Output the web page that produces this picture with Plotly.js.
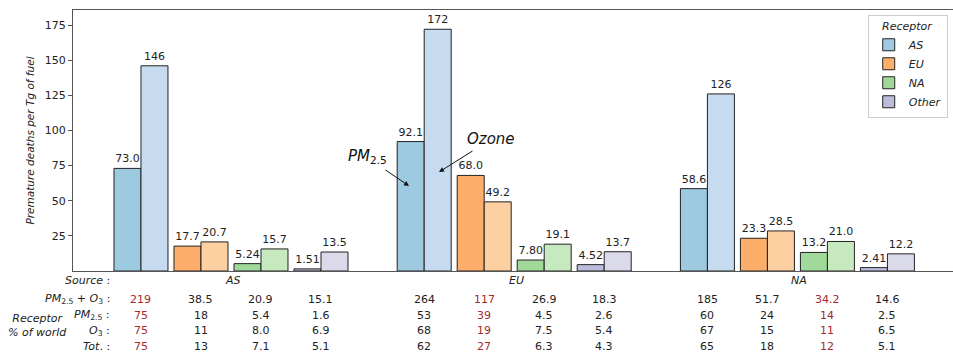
<!DOCTYPE html>
<html>
<head>
<meta charset="utf-8">
<script src="https://cdn.plot.ly/plotly-3.0.1.min.js"></script>
<style>html,body{margin:0;padding:0;background:#fff;}</style>
</head>
<body>
<div id="chart" style="width:953px;height:358px;"></div>
<script>
// ---------- DATA ----------
const sources = ['AS', 'EU', 'NA'];
const receptors = ['AS', 'EU', 'NA', 'Other'];

// Premature deaths per Tg of fuel, by source (outer) and receptor (inner)
const pm25_fromAS = [73.0, 17.7, 5.24, 1.51];
const ozone_fromAS = [146, 20.7, 15.7, 13.5];
const pm25_fromEU = [92.1, 68.0, 7.80, 4.52];
const ozone_fromEU = [172, 49.2, 19.1, 13.7];
const pm25_fromNA = [58.6, 23.3, 13.2, 2.41];
const ozone_fromNA = [126, 28.5, 21.0, 12.2];

// Table rows (AS source x4, EU source x4, NA source x4)
const rowTotal = ['219', '38.5', '20.9', '15.1', '264', '117', '26.9', '18.3', '185', '51.7', '34.2', '14.6'];
const rowPctPM = ['75', '18', '5.4', '1.6', '53', '39', '4.5', '2.6', '60', '24', '14', '2.5'];
const rowPctO3 = ['75', '11', '8.0', '6.9', '68', '19', '7.5', '5.4', '67', '15', '11', '6.5'];
const rowPctTot = ['75', '13', '7.1', '5.1', '62', '27', '6.3', '4.3', '65', '18', '12', '5.1'];

const rowLabels = ['<i>PM</i><sub>2.5</sub> + <i>O</i><sub>3</sub> :', '<i>PM</i><sub>2.5</sub> :', '<i>O</i><sub>3</sub> :', '<i>Tot</i>. :'];

// ---------- STYLE ----------
const pmColors = ['#9ecae1', '#fdae6b', '#a1d99b', '#bcbddc'];
const o3Colors = ['#c6dbef', '#fdd0a2', '#c7e9c0', '#dadaeb'];
const red = '#a52a2a';
const groupGap = 4.72;
const barW = 0.45;

const pmBySource = [pm25_fromAS, pm25_fromEU, pm25_fromNA];
const o3BySource = [ozone_fromAS, ozone_fromEU, ozone_fromNA];

function pairCenter(g, r) { return g * groupGap + (r - 1.5); }

const traces = [];
receptors.forEach((rec, r) => {
  traces.push({
    type: 'bar', name: rec, legendgroup: rec, showlegend: true,
    x: sources.map((s, g) => pairCenter(g, r) - barW / 2),
    y: sources.map((s, g) => pmBySource[g][r]),
    width: barW,
    marker: {color: pmColors[r], line: {color: '#222', width: 1}},
    text: sources.map((s, g) => pmBySource[g][r].toPrecision(3)),
    textposition: 'outside', constraintext: 'none', cliponaxis: false,
    textfont: {family: 'DejaVu Sans', size: 11, color: '#222'},
    hoverinfo: 'skip'
  });
});
receptors.forEach((rec, r) => {
  traces.push({
    type: 'bar', name: rec + ' ozone', legendgroup: rec, showlegend: false,
    x: sources.map((s, g) => pairCenter(g, r) + barW / 2),
    y: sources.map((s, g) => o3BySource[g][r]),
    width: barW,
    marker: {color: o3Colors[r], line: {color: '#222', width: 1}},
    text: sources.map((s, g) => o3BySource[g][r].toPrecision(3)),
    textposition: 'outside', constraintext: 'none', cliponaxis: false,
    textfont: {family: 'DejaVu Sans', size: 11, color: '#222'},
    hoverinfo: 'skip'
  });
});

// ---------- TABLE / ANNOTATIONS ----------
const annotations = [];
const rowY = [-0.108, -0.169, -0.229, -0.290];
const srcY = -0.038;
const labelX = (112 - 73) / 880;

annotations.push({xref: 'paper', yref: 'paper', x: labelX, y: srcY, xanchor: 'right', yanchor: 'middle',
  text: '<i>Source</i> :', showarrow: false, font: {size: 11, color: '#222'}});
sources.forEach((s, g) => {
  annotations.push({xref: 'x', yref: 'paper', x: g * groupGap + 0.03, y: srcY, xanchor: 'center', yanchor: 'middle',
    text: '<i>' + s + '</i>', showarrow: false, font: {size: 11, color: '#222'}});
});
const rows = [rowTotal, rowPctPM, rowPctO3, rowPctTot];
rows.forEach((row, k) => {
  annotations.push({xref: 'paper', yref: 'paper', x: labelX, y: rowY[k], xanchor: 'right', yanchor: 'middle',
    text: rowLabels[k], showarrow: false, font: {size: 11, color: '#222'}});
  row.forEach((val, i) => {
    const g = Math.floor(i / 4), r = i % 4;
    annotations.push({xref: 'x', yref: 'paper', x: pairCenter(g, r), y: rowY[k], xanchor: 'center', yanchor: 'middle',
      text: val, showarrow: false, font: {size: 11, color: (g === r) ? red : '#222'}});
  });
});
annotations.push({xref: 'paper', yref: 'paper', x: (37 - 73) / 880, y: -0.208, xanchor: 'center', yanchor: 'middle',
  text: '<i>Receptor</i><br><i>% of world</i>', showarrow: false, font: {size: 11, color: '#222'}});

// Arrow annotations (PM2.5 and Ozone)
annotations.push({xref: 'x', yref: 'y', x: 2.967, y: 60.5, ax: -25, ay: -17, text: '', showarrow: true,
  arrowhead: 2, arrowsize: 1, arrowwidth: 1, arrowcolor: '#111'});
annotations.push({xref: 'x', yref: 'y', x: 2.267, y: 81.8, text: '<i>PM</i><sub>2.5</sub>', showarrow: false,
  font: {size: 15, color: '#111'}});
annotations.push({xref: 'x', yref: 'y', x: 3.467, y: 70.4, ax: 35, ay: -22, text: '', showarrow: true,
  arrowhead: 2, arrowsize: 1, arrowwidth: 1, arrowcolor: '#111'});
annotations.push({xref: 'x', yref: 'y', x: 4.33, y: 93.9, text: '<i>Ozone</i>', showarrow: false,
  font: {size: 15, color: '#111'}});

const layout = {
  width: 953, height: 358,
  margin: {l: 73, r: 0, t: 10, b: 87, pad: 0},
  paper_bgcolor: '#fff', plot_bgcolor: '#fff',
  font: {family: 'DejaVu Sans', size: 11, color: '#222'},
  barmode: 'overlay',
  bargap: 0,
  xaxis: {range: [-2.633, 12.033], showline: true, mirror: true, linecolor: '#555', linewidth: 1,
    showticklabels: false, ticks: '', showgrid: false, zeroline: false, fixedrange: true},
  yaxis: {range: [0, 185.7], tickvals: [25, 50, 75, 100, 125, 150, 175], showline: true, linecolor: '#555', linewidth: 1,
    ticks: 'outside', ticklen: 4, tickcolor: '#555', showgrid: false, zeroline: false, fixedrange: true,
    tickfont: {size: 11, color: '#222'},
    title: {text: 'Premature deaths per Tg of fuel', font: {size: 10.5, style: 'italic', color: '#222'}, standoff: 8}},
  legend: {x: 0.994, y: 0.981, xanchor: 'right', yanchor: 'top', bordercolor: '#ccc', borderwidth: 1, bgcolor: '#fff',
    font: {size: 11, style: 'italic', color: '#222'}, itemwidth: 30, tracegroupgap: 0,
    title: {text: 'Receptor', side: 'top center', font: {size: 11, style: 'italic', color: '#222'}}},
  annotations: annotations,
  showlegend: true
};

Plotly.newPlot('chart', traces, layout, {displayModeBar: false, staticPlot: true});
</script>
</body>
</html>
